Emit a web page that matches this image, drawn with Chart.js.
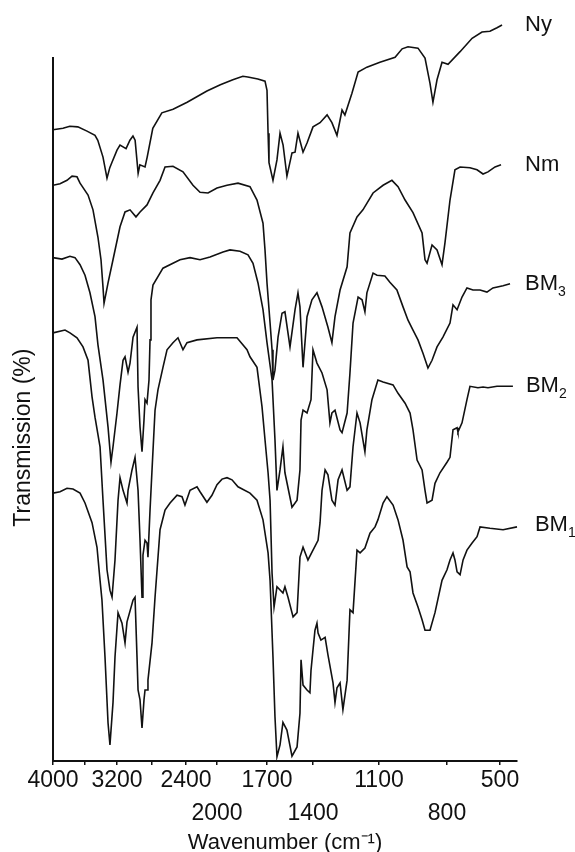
<!DOCTYPE html>
<html>
<head>
<meta charset="utf-8">
<script src="https://cdn.jsdelivr.net/npm/chart.js@4.4.1/dist/chart.umd.min.js"></script>
<style>
  html, body { margin: 0; padding: 0; background: #fff; }
  #wrap { width: 575px; height: 852px; }
</style>
</head>
<body>
<div id="wrap"><canvas id="spectra"></canvas></div>
<script>
// IR spectra, wavenumber in cm-1, transmission in % (curves offset like the original figure)
const nyWn = [4000,3875,3790,3690,3575,3475,3440,3375,3340,3325,3290,3265,3200,3165,3095,3050,3015,2990,2955,2935,2875,2850,2785,2680,2550,2385,2130,1980,1905,1845,1815,1755,1712,1700,1693,1687,1661,1635,1615,1595,1570,1537,1517,1498,1465,1439,1400,1368,1336,1314,1291,1268,1255,1223,1195,1155,1096,1029,998,972,928,897,875,862,844,822,794,726,658,602,557,517,488];
const nyT = [89.8,90.0,90.3,90.2,89.6,89.0,88.3,85.9,83.8,82.9,84.4,85.1,86.9,87.6,87.1,88.3,88.9,88.3,83.6,84.8,84.5,85.9,90.0,92.2,92.7,93.7,95.3,96.2,96.9,97.4,97.3,97.0,96.7,95.4,89.3,85.1,82.6,85.5,89.3,87.6,83.2,86.5,86.6,89.3,86.6,87.9,90.2,90.8,91.9,90.8,89.0,92.6,91.9,95.0,98.0,98.7,99.4,100.1,101.3,101.6,101.4,100.0,96.4,93.7,96.9,99.4,99.1,100.9,102.8,103.7,103.8,104.3,104.7];

const nmWn = [4000,3912,3825,3762,3700,3662,3562,3500,3438,3400,3375,3362,3312,3250,3165,3107,3049,2980,2933,2852,2783,2701,2643,2551,2435,2310,2219,2116,2000,1940,1874,1802,1760,1724,1712,1700,1680,1667,1661,1648,1628,1602,1583,1550,1517,1498,1485,1465,1439,1407,1382,1359,1332,1314,1300,1277,1245,1232,1200,1173,1127,1082,1043,1016,985,950,910,897,888,866,844,822,809,783,755,726,670,630,596,568,528,494];
const nmT = [81.9,82.1,82.6,83.2,83.1,82.2,80.5,78.4,74.5,71.3,67.4,65.1,68.0,71.3,76.0,78.1,78.4,77.4,78.1,79.1,80.8,82.6,84.5,84.6,83.8,81.9,80.9,80.8,81.5,81.9,82.2,81.7,79.8,76.5,72.7,68.0,62.3,58.5,54.2,55.6,60.3,63.7,63.9,58.9,64.2,66.6,64.6,56.0,63.2,65.6,66.6,64.6,61.7,59.5,63.2,67.0,70.3,75.1,77.4,78.4,80.8,81.9,82.6,81.7,79.8,78.0,75.1,71.3,70.8,73.4,72.7,70.6,73.7,79.8,84.1,84.5,84.4,84.1,83.5,83.8,84.5,84.8];

const bm3Wn = [4000,3888,3788,3725,3662,3600,3538,3475,3438,3375,3312,3275,3250,3200,3165,3130,3107,3072,3049,3014,2968,2956,2933,2910,2887,2875,2852,2829,2817,2806,2783,2667,2470,2348,2219,2090,1964,1922,1862,1814,1784,1754,1724,1700,1667,1648,1635,1615,1596,1583,1537,1504,1485,1478,1465,1439,1413,1400,1382,1359,1336,1323,1314,1300,1277,1268,1245,1232,1218,1195,1177,1164,1155,1127,1109,1074,1052,1021,994,972,950,928,906,884,866,844,818,783,766,743,715,687,653,613,574,540,482,441];
const bm3T = [71.6,71.4,71.8,71.6,70.6,69.1,66.6,63.2,59.2,54.2,47.5,42.5,44.7,49.5,53.5,57.0,57.5,55.3,56.6,60.3,61.7,53.2,47.5,44.0,48.5,51.4,50.9,54.2,59.9,65.6,67.7,70.1,71.3,71.6,71.3,71.7,72.4,72.7,72.5,72.0,70.8,68.0,64.2,59.5,54.2,45.7,38.5,41.4,44.7,41.0,36.1,37.1,41.4,48.5,49.9,49.5,51.4,58.5,56.6,55.2,52.8,48.1,49.5,49.9,47.1,46.7,49.5,55.2,62.3,66.0,65.6,63.9,66.6,69.4,69.1,69.0,68.1,67.0,64.6,62.7,61.3,59.9,58.0,55.9,57.0,58.9,60.3,62.3,64.9,64.2,66.0,67.3,67.0,67.0,66.7,67.3,67.6,67.9];

const bm2Wn = [4000,3850,3788,3700,3625,3562,3512,3475,3412,3375,3325,3288,3262,3225,3188,3165,3130,3084,3072,3026,2991,2956,2933,2910,2899,2875,2852,2841,2817,2794,2759,2725,2667,2620,2551,2493,2435,2387,2258,2000,1880,1820,1802,1760,1730,1712,1693,1680,1667,1654,1635,1596,1583,1563,1530,1504,1485,1465,1433,1400,1377,1368,1359,1345,1332,1314,1300,1286,1268,1245,1232,1218,1200,1186,1164,1155,1132,1105,1082,1038,1016,985,963,950,932,910,897,888,866,853,831,800,783,766,743,738,715,687,670,625,596,568,517,424];
const bm2T = [60.9,61.3,60.9,60.2,58.9,57.0,51.8,48.9,44.7,37.1,27.2,24.3,23.3,28.6,37.1,40.3,38.5,36.7,38.5,41.4,43.2,38.5,31.4,23.3,29.3,31.4,31.0,29.0,35.7,41.4,49.9,52.8,56.0,58.5,59.5,60.2,58.5,59.5,59.9,60.2,60.2,58.5,57.5,56.0,50.4,45.7,41.0,37.1,26.7,21.9,24.8,23.9,24.8,23.3,20.5,21.1,29.0,30.4,28.6,30.0,31.4,33.9,38.5,41.4,40.7,37.1,36.4,40.0,41.4,38.5,39.0,44.7,49.5,48.1,44.0,47.1,51.4,54.2,53.9,53.5,52.3,50.9,49.5,47.1,42.8,41.4,38.5,36.7,37.1,39.5,41.0,42.5,43.2,47.1,47.4,46.8,48.1,51.4,53.3,53.1,53.2,53.1,53.3,53.3];

const bm1Wn = [4000,3912,3825,3750,3662,3600,3512,3450,3412,3388,3350,3312,3288,3250,3225,3188,3142,3107,3084,3014,2991,2968,2956,2933,2910,2887,2875,2852,2841,2794,2759,2701,2643,2585,2504,2446,2412,2348,2258,2219,2130,2065,2000,1970,1940,1910,1874,1802,1760,1724,1693,1680,1661,1648,1635,1615,1596,1570,1537,1504,1485,1478,1465,1439,1420,1413,1400,1391,1382,1377,1364,1345,1332,1309,1300,1291,1277,1264,1245,1232,1218,1200,1186,1164,1141,1118,1105,1082,1065,1038,1016,994,976,963,950,928,910,897,875,853,822,800,783,766,755,743,726,709,687,658,630,613,557,482,400,371];
const bm1T = [38.1,38.3,38.8,38.7,38.1,36.7,33.9,30.4,25.7,22.9,14.8,5.4,2.3,8.3,14.8,21.1,19.6,16.8,19.8,22.9,23.3,14.8,10.1,8.7,4.7,8.7,10.1,10.1,11.5,16.8,23.3,32.9,35.7,36.7,37.8,37.6,36.4,38.5,39.0,38.3,36.8,37.8,39.3,40.1,40.3,40.0,39.0,38.1,37.1,34.3,29.6,25.7,14.8,6.3,0.6,2.3,5.5,4.4,0.7,2.0,6.8,14.4,10.8,10.1,9.7,12.9,15.8,18.6,19.6,18.2,17.2,17.6,15.1,11.1,8.3,10.4,11.1,7.3,11.5,21.5,21.1,30.0,29.6,30.3,32.4,33.3,34.3,36.7,37.6,36.4,34.3,31.4,27.6,26.9,23.9,21.9,20.1,18.6,18.6,21.1,25.7,27.2,28.6,29.6,28.6,26.9,26.5,28.6,30.0,31.0,31.9,33.3,33.1,32.9,33.3,33.6];

const seriesName = ['Ny', 'Nm', 'BM', 'BM', 'BM'];
const seriesSub = ['', '', '3', '2', '1'];

// tick labels, two staggered rows like the printed axis
const tickWn = [4000, 3600, 3200, 2800, 2400, 2000, 1700, 1400, 1100, 800, 500];
const tickText = ['4000', '', '3200', '', '2400', '2000', '1700', '1400', '1100', '800', '500'];
const tickRow = [0, 0, 0, 0, 0, 1, 0, 1, 0, 1, 0];

// the printed wavenumber axis is not linear: scale breaks (wavenumber -> axis units)
const breakWn = [4000, 3200, 2400, 2000, 1700, 1400, 1100, 800, 500, 400];
const breakU = [0, 64, 133, 164, 214, 260, 326, 394, 447, 464];

function warp(wn) {
  let i = 0;
  while (i < breakWn.length - 2 && wn < breakWn[i + 1]) i++;
  const w0 = breakWn[i], w1 = breakWn[i + 1];
  return breakU[i] + (w0 - wn) / (w0 - w1) * (breakU[i + 1] - breakU[i]);
}

function toPoints(wn, t) {
  return wn.map((w, i) => ({ x: warp(w), y: t[i] }));
}

const ink = '#111';
const font = '"Liberation Sans", Arial, Helvetica, sans-serif';

const series = [[nyWn, nyT], [nmWn, nmT], [bm3Wn, bm3T], [bm2Wn, bm2T], [bm1Wn, bm1T]];

// curve names at the right end of each trace, and the y title (sits a bit low in the original)
const seriesLabels = {
  id: 'seriesLabels',
  afterDatasetsDraw(chart) {
    const { ctx, chartArea } = chart;
    ctx.save();
    ctx.fillStyle = ink;
    ctx.textBaseline = 'middle';
    ctx.textAlign = 'left';
    chart.data.datasets.forEach((ds, i) => {
      const pts = chart.getDatasetMeta(i).data;
      const last = pts[pts.length - 1];
      const x = Math.max(chartArea.right + 8, last.x + 13);
      ctx.font = '22px ' + font;
      ctx.fillText(seriesName[i], x, last.y);
      if (seriesSub[i]) {
        const w = ctx.measureText(seriesName[i]).width;
        ctx.font = '14px ' + font;
        ctx.fillText(seriesSub[i], x + w, last.y + 8);
      }
    });

    ctx.translate(24, chartArea.top + (chartArea.bottom - chartArea.top) * 0.54);
    ctx.rotate(-Math.PI / 2);
    ctx.textAlign = 'center';
    ctx.font = '23px ' + font;
    ctx.fillText('Transmission (%)', 0, 0);
    ctx.restore();
  }
};

new Chart(document.getElementById('spectra'), {
  type: 'line',
  data: {
    datasets: series.map((s, i) => ({
      label: seriesName[i] + seriesSub[i],
      data: toPoints(s[0], s[1]),
      borderColor: ink,
      borderWidth: 1.6,
      pointRadius: 0,
      tension: 0,
      fill: false,
      clip: false
    }))
  },
  options: {
    responsive: true,
    maintainAspectRatio: false,
    animation: false,
    layout: { padding: { top: 58, right: 58, left: 0, bottom: 0 } },
    plugins: {
      legend: { display: false },
      tooltip: { enabled: false }
    },
    scales: {
      x: {
        type: 'linear',
        min: 0,
        max: 464,
        afterBuildTicks: scale => {
          scale.ticks = tickWn.map(w => ({ value: warp(w) }));
        },
        afterFit: scale => { scale.height = 91; },
        grid: {
          display: true,
          drawOnChartArea: false,
          drawTicks: true,
          tickLength: 4,
          color: ink,
          lineWidth: 1.5
        },
        border: { display: true, color: ink, width: 2 },
        ticks: {
          autoSkip: false,
          maxRotation: 0,
          padding: 0,
          color: ink,
          font: { family: font, size: 23, lineHeight: 1.4 },
          callback: (value, index) => tickRow[index] ? ['', tickText[index]] : tickText[index]
        },
        title: {
          display: true,
          text: 'Wavenumber (cm\u207B\u00B9)',
          color: ink,
          font: { family: font, size: 22, lineHeight: 0.8 },
          padding: { top: 0, bottom: 0 }
        }
      },
      y: {
        min: 0,
        max: 100,
        afterFit: scale => { scale.width = 53; },
        grid: { display: false },
        border: { display: true, color: ink, width: 2 },
        ticks: { display: false },
        title: { display: false }
      }
    }
  },
  plugins: [seriesLabels]
});
</script>
</body>
</html>
